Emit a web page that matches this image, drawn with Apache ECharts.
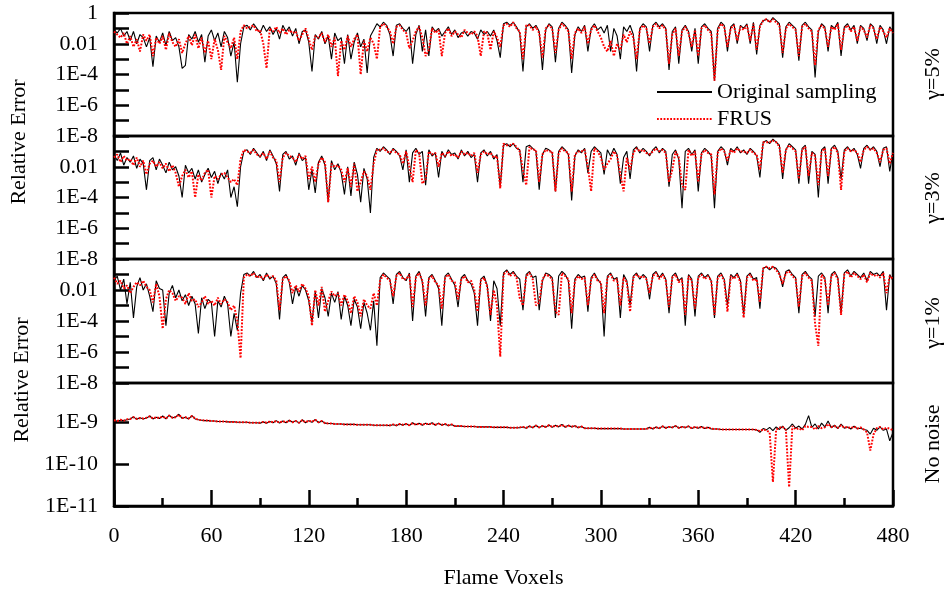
<!DOCTYPE html>
<html><head><meta charset="utf-8">
<script src="https://cdn.jsdelivr.net/npm/echarts@6/dist/echarts.min.js"></script>
<style>html,body{margin:0;padding:0;background:#fff}#c{width:948px;height:592px}</style>
</head><body><div id="c"></div>
<script>
// Flame voxel index step between stored samples
const voxelStep = 2;
const xTickValues = [0, 60, 120, 180, 240, 300, 360, 420, 480];
const seriesNames = ['Original sampling', 'FRUS'];
const panelLabels = ['γ=5%', 'γ=3%', 'γ=1%', 'No noise'];

// Panels 1-3: log10(relative error) x 10 ; Panel 4: log10(relative error) x 100
const g5Original = [
-11,-13,-10,-15,-12,-18,-12,-20,-14,-16,-22,-16,-35,-15,-19,-13,-21,-12,-18,-16,-22,-36,-34,-14,-17,-12,-19,-14,-32,-15,-11,-18,-13,-22,-12,-16,-28,-19,-45,-20,-9,-8,-11,-7,-10,-13,-8,-12,-9,-14,
-10,-17,-8,-12,-9,-15,-10,-20,-12,-11,-19,-38,-14,-17,-12,-20,-15,-30,-13,-18,-16,-33,-14,-30,-19,-13,-22,-17,-39,-15,-11,-7,-9,-6,-8,-14,-28,-8,-7,-10,-12,-9,-33,-14,-8,-25,-11,-28,-9,-12,
-10,-15,-12,-9,-14,-11,-16,-13,-12,-15,-12,-13,-17,-11,-14,-12,-15,-11,-18,-29,-7,-6,-8,-6,-9,-13,-38,-9,-7,-10,-8,-12,-37,-11,-7,-9,-32,-10,-6,-8,-11,-39,-14,-9,-12,-8,-25,-10,-7,-11,
-9,-13,-8,-25,-10,-15,-30,-9,-12,-8,-14,-38,-10,-7,-9,-25,-8,-6,-9,-7,-10,-37,-12,-9,-33,-11,-8,-12,-25,-10,-33,-9,-7,-10,-12,-44,-10,-6,-8,-25,-9,-7,-20,-8,-10,-7,-20,-6,-27,-8,
-5,-4,-6,-3,-5,-7,-29,-9,-6,-8,-10,-31,-8,-6,-9,-11,-42,-12,-7,-9,-25,-8,-10,-6,-28,-9,-7,-11,-8,-20,-8,-10,-18,-7,-9,-20,-8,-11,-20,-9,
-12];
const g5Frus = [
-12,-14,-16,-13,-20,-15,-22,-17,-25,-14,-18,-14,-28,-16,-20,-15,-24,-13,-19,-22,-17,-26,-20,-15,-21,-14,-23,-16,-26,-18,-30,-17,-24,-37,-15,-19,-23,-16,-30,-12,-8,-10,-9,-8,-12,-11,-20,-36,-10,-12,
-9,-13,-10,-14,-11,-13,-12,-18,-14,-10,-17,-24,-15,-16,-13,-19,-14,-22,-16,-41,-18,-24,-15,-22,-17,-14,-40,-18,-25,-16,-20,-30,-9,-7,-9,-12,-20,-9,-8,-11,-13,-23,-18,-12,-9,-16,-28,-24,-10,-13,
-11,-28,-13,-10,-15,-12,-14,-16,-11,-13,-14,-12,-15,-28,-12,-13,-24,-12,-16,-22,-8,-7,-9,-6,-10,-12,-30,-8,-8,-11,-9,-13,-29,-10,-8,-10,-26,-11,-7,-9,-12,-30,-13,-10,-13,-9,-20,-11,-8,-12,
-16,-22,-25,-18,-28,-20,-24,-14,-19,-12,-16,-30,-11,-8,-10,-20,-9,-7,-10,-8,-11,-33,-14,-10,-28,-12,-9,-13,-22,-11,-28,-10,-8,-11,-13,-44,-11,-7,-9,-22,-10,-8,-18,-9,-11,-8,-18,-7,-24,-9,
-5,-4,-6,-4,-6,-8,-26,-10,-7,-9,-11,-28,-9,-7,-10,-12,-34,-11,-8,-10,-22,-9,-11,-7,-24,-10,-8,-12,-9,-18,-9,-11,-16,-8,-10,-17,-9,-12,-16,-10,
-13];
const g3Original = [
-12,-16,-11,-19,-14,-17,-13,-21,-15,-18,-35,-16,-14,-22,-15,-19,-24,-17,-22,-20,-26,-40,-19,-24,-21,-28,-22,-30,-25,-21,-27,-23,-31,-24,-28,-22,-40,-33,-46,-20,-10,-9,-12,-8,-11,-14,-10,-16,-9,-13,
-18,-36,-12,-10,-15,-13,-19,-11,-16,-14,-35,-22,-37,-17,-13,-19,-43,-16,-22,-18,-24,-38,-20,-39,-17,-25,-43,-21,-28,-50,-14,-8,-10,-7,-9,-12,-8,-10,-13,-22,-9,-30,-11,-8,-12,-10,-32,-9,-13,-11,
-27,-10,-14,-9,-12,-11,-15,-9,-13,-10,-14,-12,-30,-11,-9,-13,-10,-15,-12,-33,-6,-5,-7,-5,-8,-9,-30,-7,-6,-8,-10,-35,-12,-8,-9,-11,-36,-10,-7,-9,-12,-42,-13,-9,-11,-8,-24,-10,-7,-9,
-11,-25,-9,-13,-8,-12,-31,-14,-10,-28,-9,-7,-11,-8,-10,-13,-9,-7,-11,-8,-10,-33,-12,-9,-15,-47,-10,-8,-12,-9,-36,-11,-8,-10,-13,-47,-10,-7,-9,-19,-8,-10,-7,-11,-9,-12,-8,-10,-13,-27,
-4,-3,-5,-2,-4,-6,-28,-9,-5,-7,-9,-31,-8,-6,-31,-10,-12,-40,-9,-7,-31,-8,-6,-10,-28,-9,-7,-10,-8,-12,-21,-8,-6,-9,-7,-10,-20,-8,-7,-23,
-10];
const g3Frus = [
-14,-12,-17,-13,-16,-15,-19,-14,-20,-16,-25,-18,-16,-20,-17,-21,-18,-23,-19,-24,-33,-26,-22,-27,-23,-40,-25,-29,-24,-22,-40,-26,-28,-25,-24,-27,-30,-28,-32,-15,-9,-10,-11,-9,-12,-13,-11,-15,-10,-14,
-16,-30,-14,-11,-13,-14,-17,-12,-15,-13,-28,-20,-30,-18,-14,-17,-43,-18,-20,-19,-22,-30,-21,-33,-18,-36,-30,-23,-26,-35,-18,-9,-9,-8,-10,-11,-9,-11,-12,-18,-10,-20,-30,-9,-11,-31,-28,-10,-12,-11,
-20,-11,-13,-10,-13,-12,-14,-10,-12,-11,-13,-11,-24,-12,-10,-12,-11,-14,-13,-34,-5,-6,-6,-5,-7,-10,-22,-32,-7,-9,-9,-30,-12,-9,-10,-10,-36,-11,-8,-10,-11,-36,-12,-10,-10,-9,-20,-36,-8,-10,
-14,-22,-18,-15,-10,-13,-25,-36,-14,-22,-11,-8,-10,-9,-11,-12,-10,-8,-10,-9,-11,-30,-22,-10,-14,-32,-35,-9,-13,-10,-30,-12,-9,-11,-12,-38,-11,-8,-10,-16,-9,-11,-8,-10,-10,-11,-9,-11,-12,-22,
-4,-4,-4,-3,-4,-7,-24,-9,-6,-8,-10,-28,-9,-7,-26,-11,-13,-32,-10,-8,-26,-9,-7,-11,-35,-10,-8,-10,-9,-11,-17,-9,-7,-9,-8,-11,-17,-9,-8,-18,
-11];
const g1Original = [
-14,-11,-20,-13,-29,-15,-38,-18,-12,-20,-16,-24,-34,-14,-19,-20,-43,-22,-17,-25,-20,-27,-23,-30,-24,-29,-48,-25,-32,-26,-28,-50,-27,-31,-24,-29,-50,-35,-46,-22,-10,-9,-11,-8,-12,-10,-14,-9,-13,-11,
-16,-39,-12,-10,-15,-29,-18,-24,-17,-20,-27,-41,-21,-38,-19,-25,-37,-22,-28,-21,-39,-24,-30,-43,-26,-31,-45,-28,-35,-46,-27,-56,-12,-9,-11,-13,-29,-10,-8,-12,-14,-9,-40,-11,-8,-15,-37,-12,-10,-14,
-19,-43,-11,-9,-13,-17,-31,-12,-10,-14,-16,-22,-43,-13,-11,-17,-40,-14,-19,-43,-9,-7,-10,-8,-11,-13,-33,-10,-8,-12,-11,-33,-14,-9,-10,-12,-38,-11,-8,-10,-14,-45,-13,-10,-12,-11,-34,-12,-9,-13,
-16,-50,-11,-9,-13,-12,-38,-10,-14,-30,-11,-9,-13,-10,-12,-26,-10,-8,-12,-9,-13,-35,-11,-9,-14,-12,-43,-10,-13,-37,-11,-9,-12,-10,-14,-38,-11,-9,-13,-30,-10,-12,-9,-14,-36,-11,-9,-13,-12,-32,
-6,-5,-7,-5,-6,-9,-18,-8,-7,-10,-12,-35,-10,-8,-11,-13,-37,-11,-9,-12,-35,-10,-8,-12,-35,-9,-7,-11,-8,-10,-12,-9,-14,-8,-10,-9,-11,-8,-33,-10,
-14];
const g1Frus = [
-12,-16,-14,-19,-17,-22,-18,-15,-17,-14,-18,-20,-28,-16,-24,-45,-26,-20,-22,-27,-24,-25,-29,-22,-27,-26,-31,-28,-24,-29,-27,-30,-25,-29,-26,-28,-33,-30,-40,-64,-12,-10,-11,-9,-12,-11,-13,-10,-12,-11,
-14,-33,-13,-11,-14,-22,-17,-21,-16,-19,-24,-43,-20,-30,-18,-34,-27,-21,-24,-22,-30,-23,-27,-35,-24,-28,-37,-26,-30,-32,-22,-30,-14,-10,-12,-14,-24,-11,-9,-13,-13,-10,-31,-12,-9,-14,-30,-13,-11,-15,
-17,-32,-12,-10,-14,-15,-26,-13,-11,-15,-14,-20,-34,-14,-12,-18,-36,-20,-30,-63,-10,-8,-11,-9,-12,-25,-30,-11,-9,-13,-30,-28,-13,-10,-11,-13,-34,-36,-9,-11,-13,-35,-14,-11,-13,-12,-30,-13,-10,-14,
-15,-35,-12,-10,-14,-13,-30,-12,-15,-34,-12,-10,-12,-11,-13,-22,-11,-9,-13,-10,-14,-31,-12,-10,-15,-13,-36,-11,-14,-32,-12,-10,-13,-11,-14,-36,-12,-10,-14,-34,-11,-13,-10,-15,-38,-12,-10,-14,-13,-28,
-6,-5,-6,-5,-7,-10,-16,-9,-8,-11,-13,-31,-11,-9,-12,-14,-42,-56,-10,-13,-30,-11,-9,-13,-36,-10,-8,-12,-9,-11,-13,-10,-15,-9,-11,-10,-12,-9,-22,-11,
-13];
const noNoiseOriginal = [
-897,-898,-896,-897,-895,-893,-888,-894,-890,-893,-891,-886,-893,-889,-892,-886,-893,-884,-891,-888,-882,-892,-889,-893,-885,-893,-895,-896,-897,-897,-898,-898,-899,-899,-899,-900,-900,-900,-901,-901,-901,-901,-902,-902,-902,-903,-900,-903,-899,-902,
-897,-903,-898,-902,-896,-901,-897,-903,-895,-902,-897,-901,-894,-902,-898,-903,-904,-904,-905,-905,-905,-906,-906,-906,-906,-907,-907,-907,-907,-907,-908,-908,-908,-908,-908,-909,-906,-909,-905,-908,-904,-909,-902,-907,-903,-908,-903,-906,-902,-908,
-903,-908,-905,-909,-906,-910,-910,-910,-911,-911,-911,-911,-912,-912,-912,-912,-912,-913,-913,-913,-913,-913,-914,-914,-914,-914,-912,-915,-910,-914,-908,-914,-909,-913,-907,-913,-908,-912,-906,-913,-908,-912,-909,-914,-911,-915,-915,-915,-915,-916,
-916,-916,-916,-916,-916,-916,-916,-917,-917,-917,-917,-917,-917,-917,-917,-913,-917,-912,-916,-910,-915,-911,-914,-909,-915,-911,-914,-910,-916,-912,-915,-911,-916,-913,-917,-917,-917,-918,-918,-918,-918,-918,-918,-918,-918,-918,-918,-918,-919,-925,
-916,-919,-913,-921,-912,-918,-910,-920,-914,-905,-915,-910,-917,-906,-885,-913,-905,-917,-903,-912,-898,-914,-908,-916,-905,-915,-912,-917,-910,-916,-915,-918,-920,-929,-915,-920,-912,-920,-917,-945,
-925];
const noNoiseFrus = [
-896,-898,-895,-897,-894,-893,-889,-893,-891,-892,-890,-887,-892,-889,-891,-887,-892,-885,-890,-889,-883,-891,-889,-892,-886,-892,-895,-896,-897,-897,-898,-898,-899,-899,-899,-900,-900,-900,-901,-901,-901,-901,-902,-902,-902,-902,-900,-902,-899,-901,
-898,-902,-898,-901,-897,-901,-898,-902,-896,-901,-897,-900,-895,-901,-898,-903,-904,-904,-905,-905,-905,-906,-906,-906,-906,-907,-907,-907,-907,-907,-908,-908,-908,-908,-908,-908,-906,-908,-905,-907,-905,-908,-903,-907,-904,-907,-904,-906,-903,-907,
-904,-907,-905,-908,-906,-910,-910,-910,-911,-911,-911,-911,-912,-912,-912,-912,-912,-913,-913,-913,-913,-913,-914,-914,-914,-913,-912,-914,-911,-913,-909,-913,-910,-912,-908,-912,-909,-911,-907,-912,-909,-911,-910,-913,-911,-915,-915,-915,-915,-916,
-916,-916,-916,-916,-916,-916,-916,-917,-917,-917,-917,-917,-917,-917,-917,-914,-916,-913,-915,-911,-914,-912,-913,-910,-914,-912,-913,-911,-915,-912,-914,-912,-915,-913,-916,-917,-917,-918,-918,-918,-918,-918,-918,-918,-918,-918,-918,-918,-919,-922,
-918,-920,-925,-1043,-918,-914,-912,-919,-1055,-910,-918,-915,-920,-910,-912,-912,-918,-910,-915,-913,-905,-912,-910,-914,-908,-914,-912,-915,-911,-916,-913,-918,-925,-968,-930,-915,-912,-918,-914,-916,
-920];

const FONT = 'Liberation Serif';
const panels = [
  {orig: g5Original, frus: g5Frus, div: 10, min: 1e-8, max: 1, top: 13, height: 123, showTop: true, evenOnly: true},
  {orig: g3Original, frus: g3Frus, div: 10, min: 1e-8, max: 1, top: 136, height: 123, showTop: false, evenOnly: true},
  {orig: g1Original, frus: g1Frus, div: 10, min: 1e-8, max: 1, top: 259, height: 124, showTop: false, evenOnly: true},
  {orig: noNoiseOriginal, frus: noNoiseFrus, div: 100, min: 1e-11, max: 8.4e-9, top: 383, height: 123, showTop: true, evenOnly: false}
];
function toPts(arr, div) { return arr.map((v, i) => [i * voxelStep, Math.pow(10, v / div)]); }
function makeFmt(p) {
  return function (val) {
    const e = Math.log10(val); const r = Math.round(e);
    if (Math.abs(e - r) > 0.02) return '';
    if (p.evenOnly && r % 2 !== 0) return '';
    if (r === 0) return p.showTop ? '1' : '';
    if (r === -2) return '0.01';
    return '1E' + r;
  };
}
const grids = [], xAxes = [], yAxes = [], series = [];
panels.forEach((p, i) => {
  const last = i === panels.length - 1;
  grids.push({left: 114, width: 779, top: p.top, height: p.height, show: true, borderColor: '#000', borderWidth: 2.5, backgroundColor: 'transparent'});
  xAxes.push({
    type: 'value', gridIndex: i, min: 0, max: 480, interval: 60, show: last,
    axisLine: {show: true, lineStyle: {color: '#000', width: 2.5}},
    axisTick: {show: true, inside: true, length: 16, lineStyle: {color: '#000', width: 2.5}},
    minorTick: {show: true, splitNumber: 2, length: 8, lineStyle: {color: '#000', width: 2.5}},
    splitLine: {show: false},
    axisLabel: {fontFamily: FONT, fontSize: 22, color: '#000', margin: 19,
      formatter: v => (xTickValues.indexOf(v) >= 0 ? String(v) : '')},
    name: last ? 'Flame Voxels' : '', nameLocation: 'middle', nameGap: 61,
    nameTextStyle: {fontFamily: FONT, fontSize: 22, color: '#000'}
  });
  yAxes.push({
    type: 'log', logBase: 10, gridIndex: i, min: p.min, max: p.max,
    axisLine: {show: true, lineStyle: {color: '#000', width: 2.5}},
    axisTick: {show: true, inside: true, length: 15, lineStyle: {color: '#000', width: 2.5}},
    splitLine: {show: false},
    axisLabel: {fontFamily: FONT, fontSize: 22, color: '#000', margin: 16, formatter: makeFmt(p), showMinLabel: true, showMaxLabel: true}
  });
  series.push({
    type: 'line', name: seriesNames[0], xAxisIndex: i, yAxisIndex: i, data: toPts(p.orig, p.div),
    symbol: 'none', lineStyle: {color: '#000', width: 1.1}, itemStyle: {color: '#000'}, z: 2
  });
  series.push({
    type: 'line', name: seriesNames[1], xAxisIndex: i, yAxisIndex: i, data: toPts(p.frus, p.div),
    symbol: 'none', lineStyle: {color: '#ff0000', width: 2, type: [1.8, 1.5]}, itemStyle: {color: '#ff0000'}, z: 3
  });
});
const rightLabelY = [74, 198, 323, 444];
const graphic = [
  {type: 'text', x: 19, y: 142, rotation: Math.PI / 2, style: {text: 'Relative Error', font: '22px "Liberation Serif"', fill: '#000', align: 'center', verticalAlign: 'middle'}},
  {type: 'text', x: 22, y: 380, rotation: Math.PI / 2, style: {text: 'Relative Error', font: '22px "Liberation Serif"', fill: '#000', align: 'center', verticalAlign: 'middle'}}
];
panelLabels.forEach((t, i) => {
  graphic.push({type: 'text', x: 933, y: rightLabelY[i], rotation: Math.PI / 2, style: {text: t, font: '22px "Liberation Serif"', fill: '#000', align: 'center', verticalAlign: 'middle'}});
});
const chart = echarts.init(document.getElementById('c'), null, {renderer: 'canvas'});
chart.setOption({
  animation: false,
  backgroundColor: '#fff',
  textStyle: {fontFamily: FONT},
  grid: grids, xAxis: xAxes, yAxis: yAxes, series: series,
  legend: {
    data: seriesNames, orient: 'vertical', left: 651, top: 76, itemWidth: 55, itemHeight: 14, itemGap: 5,
    itemStyle: {opacity: 0},
    textStyle: {fontFamily: FONT, fontSize: 22, color: '#000'}, selectedMode: false
  },
  graphic: graphic
});
</script></body></html>
